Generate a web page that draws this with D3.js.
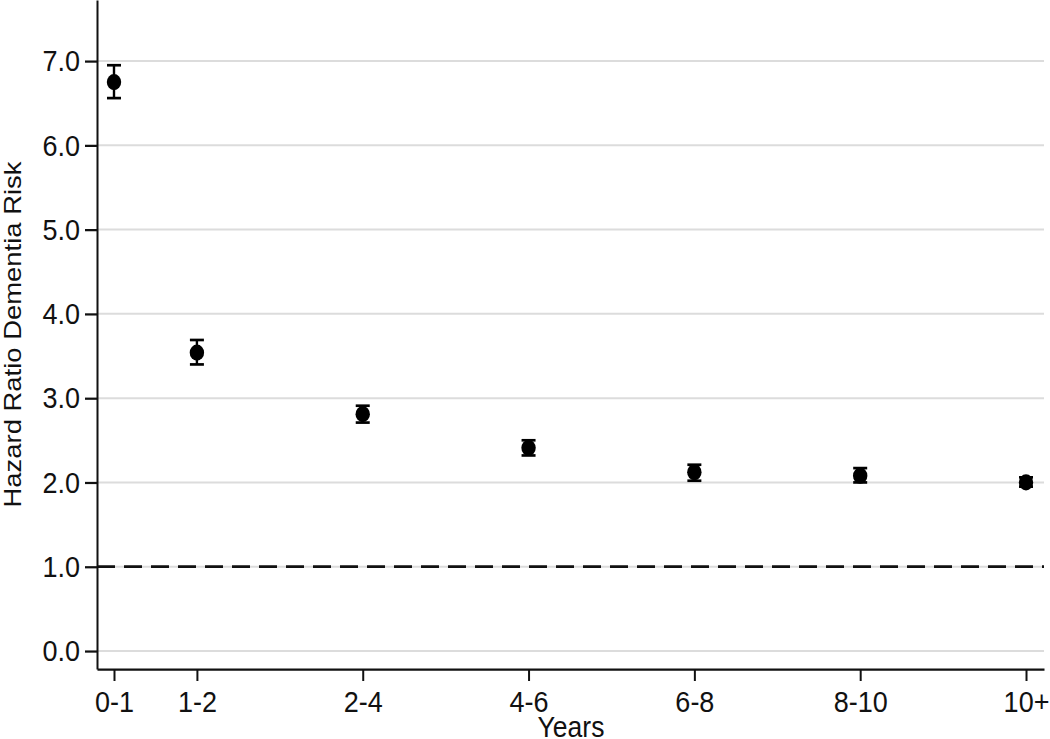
<!DOCTYPE html>
<html>
<head>
<meta charset="utf-8">
<script src="https://cdn.jsdelivr.net/npm/d3@7"></script>
<style>
  html, body { margin: 0; padding: 0; background: #fff; }
  svg { display: block; }
  text { font-family: "Liberation Sans", Arial, Helvetica, sans-serif; fill: #111; }
</style>
</head>
<body>
<svg id="chart"></svg>
<script>
// ---- data ----
const categories = ["0-1", "1-2", "2-4", "4-6", "6-8", "8-10", "10+"];
const periodEnd  = [1, 2, 4, 6, 8, 10, 12];          // years (upper bound of each period)
const hazardRatio = [6.75, 3.54, 2.81, 2.41, 2.12, 2.08, 2.00];
const ciLower     = [6.56, 3.40, 2.71, 2.32, 2.02, 2.00, 1.95];
const ciUpper     = [6.95, 3.69, 2.91, 2.50, 2.21, 2.17, 2.06];
const yTicks = [0, 1, 2, 3, 4, 5, 6, 7];
const referenceValue = 1.0;
const xTitle = "Years";
const yTitle = "Hazard Ratio Dementia Risk";

(function () {
// ---- layout (the original picture is stretched vertically) ----
const W = 1050, H = 739, VH = 660;
const svg = d3.select("#chart")
  .attr("width", W).attr("height", H)
  .attr("viewBox", `0 0 ${W} ${VH}`)
  .attr("preserveAspectRatio", "none");

const mLeft = 97, mRight = 1044, mTop = 0, mBottom = 597.5;

const x = d3.scaleLinear().domain([0.795, 12.217]).range([mLeft, mRight]);
const y = d3.scaleLinear().domain([-0.214, 7.724]).range([mBottom, mTop]);

const data = categories.map((c, i) => ({
  cat: c, x: periodEnd[i], hr: hazardRatio[i], lo: ciLower[i], hi: ciUpper[i]
}));

// gridlines
svg.append("g").selectAll("line").data(yTicks).join("line")
  .attr("x1", mLeft).attr("x2", mRight)
  .attr("y1", d => y(d)).attr("y2", d => y(d))
  .attr("stroke", "#dcdcdc").attr("stroke-width", 1.8);

// reference dashed line
svg.append("line")
  .attr("x1", mLeft).attr("x2", mRight)
  .attr("y1", y(referenceValue)).attr("y2", y(referenceValue))
  .attr("stroke", "#111").attr("stroke-width", 2.4)
  .attr("stroke-dasharray", "18,9");

// y axis
const yAxis = svg.append("g")
  .attr("transform", `translate(${mLeft},0)`)
  .call(d3.axisLeft(y).tickValues(yTicks).tickFormat(d3.format(".1f"))
    .tickSize(12).tickSizeOuter(0).tickPadding(5));
yAxis.selectAll("text").style("font-size", "27px")
  .style("font-family", '"Liberation Sans", Arial, sans-serif').attr("fill", "#111");
yAxis.selectAll("line").attr("stroke", "#111").attr("stroke-width", 2);
yAxis.select(".domain").attr("stroke", "#111").attr("stroke-width", 2);

// x axis
const xAxis = svg.append("g")
  .attr("transform", `translate(0,${mBottom})`)
  .call(d3.axisBottom(x).tickValues(periodEnd)
    .tickFormat((d, i) => categories[i])
    .tickSize(10.7).tickSizeOuter(0).tickPadding(8.6));
xAxis.selectAll("text").style("font-size", "27px")
  .style("font-family", '"Liberation Sans", Arial, sans-serif').attr("fill", "#111");
xAxis.selectAll("line").attr("stroke", "#111").attr("stroke-width", 2);
xAxis.select(".domain").attr("stroke", "#111").attr("stroke-width", 2);

// error bars
const eb = svg.append("g");
const capW = 7;
eb.selectAll("line.v").data(data).join("line").attr("class", "v")
  .attr("x1", d => x(d.x)).attr("x2", d => x(d.x))
  .attr("y1", d => y(d.lo)).attr("y2", d => y(d.hi))
  .attr("stroke", "#000").attr("stroke-width", 2.4);
eb.selectAll("line.t").data(data).join("line").attr("class", "t")
  .attr("x1", d => x(d.x) - capW).attr("x2", d => x(d.x) + capW)
  .attr("y1", d => y(d.hi)).attr("y2", d => y(d.hi))
  .attr("stroke", "#000").attr("stroke-width", 2.4);
eb.selectAll("line.b").data(data).join("line").attr("class", "b")
  .attr("x1", d => x(d.x) - capW).attr("x2", d => x(d.x) + capW)
  .attr("y1", d => y(d.lo)).attr("y2", d => y(d.lo))
  .attr("stroke", "#000").attr("stroke-width", 2.4);

// points
svg.append("g").selectAll("circle").data(data).join("circle")
  .attr("cx", d => x(d.x)).attr("cy", d => y(d.hr))
  .attr("r", 7.2).attr("fill", "#000");

// axis titles
svg.append("text")
  .attr("x", 571).attr("y", 658)
  .attr("text-anchor", "middle")
  .style("font-size", "26.5px")
  .text(xTitle);

svg.append("text")
  .attr("transform", `translate(${20.5},${334.5 / (H / VH)}) rotate(-90)`)
  .attr("text-anchor", "middle")
  .style("font-size", "24.5px")
  .text(yTitle);
})();
</script>
</body>
</html>
